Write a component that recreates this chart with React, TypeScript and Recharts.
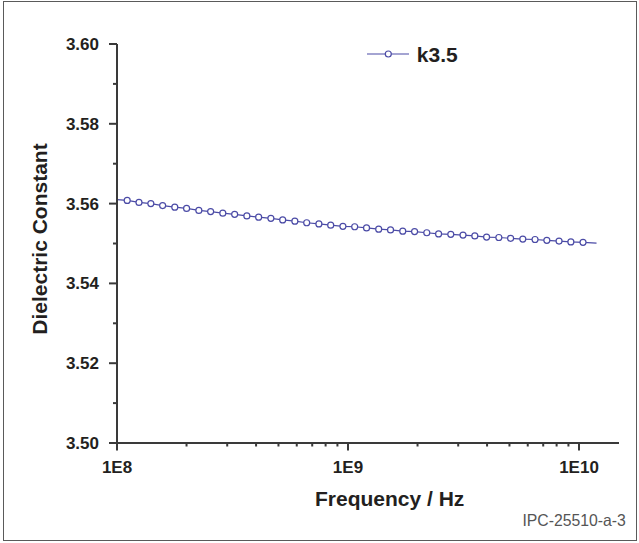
import React from 'react';
import { LineChart, Line, XAxis, YAxis, Legend } from 'recharts';

// Frequency (Hz) of the plotted points
const frequencyHz = [
  1.0e8, 1.107e8, 1.245e8, 1.401e8, 1.576e8, 1.779e8, 2.001e8, 2.261e8, 2.543e8, 2.871e8,
  3.231e8, 3.649e8, 4.104e8, 4.636e8, 5.215e8, 5.888e8, 6.625e8, 7.482e8, 8.416e8, 9.506e8,
  1.069e9, 1.203e9, 1.358e9, 1.528e9, 1.726e9, 1.942e9, 2.193e9, 2.467e9, 2.786e9, 3.147e9,
  3.54e9, 3.981e9, 4.498e9, 5.058e9, 5.712e9, 6.452e9, 7.258e9, 8.197e9, 9.222e9, 1.041e10,
  1.191e10,
];

// Dielectric constant of series k3.5
const dielectricK35 = [
  3.561, 3.5608, 3.5603, 3.56, 3.5595, 3.5591, 3.5588, 3.5583, 3.558, 3.5576,
  3.5573, 3.5569, 3.5566, 3.5563, 3.5559, 3.5556, 3.5552, 3.5549, 3.5546, 3.5543,
  3.5542, 3.5539, 3.5536, 3.5534, 3.5531, 3.553, 3.5527, 3.5524, 3.5523, 3.5521,
  3.5519, 3.5516, 3.5515, 3.5513, 3.5511, 3.551, 3.5508, 3.5506, 3.5504, 3.5503,
  3.5501,
];

const seriesName = 'k3.5';

const xMajorTicks = [1e8, 1e9, 1e10];
const xTickLabels = ['1E8', '1E9', '1E10'];
const xMinorTicks = [2e8, 3e8, 4e8, 5e8, 6e8, 7e8, 8e8, 9e8, 2e9, 3e9, 4e9, 5e9, 6e9, 7e9, 8e9, 9e9];
const xDomain = [1e8, 1.49e10];

const yTicks = [3.5, 3.51, 3.52, 3.53, 3.54, 3.55, 3.56, 3.57, 3.58, 3.59, 3.6];
const yMajorTicks = [3.5, 3.52, 3.54, 3.56, 3.58, 3.6];
const yTickLabels = ['3.50', '3.52', '3.54', '3.56', '3.58', '3.60'];
const yDomain = [3.5, 3.6];

const xTitle = 'Frequency / Hz';
const yTitle = 'Dielectric Constant';
const footnote = 'IPC-25510-a-3';

const data = frequencyHz.map((f, i) => ({ f, k: dielectricK35[i] }));
const xAllTicks = [...xMajorTicks, ...xMinorTicks].sort((a, b) => a - b);

const FONT = '"Liberation Sans", Arial, Helvetica, sans-serif';
const TEXT = '#231f20';
const AXIS = '#3a3a3a';
const BLUE = '#4b4ba6';

const XTick = (props: any) => {
  const { x, y, payload } = props;
  const v = payload.value;
  const idx = xMajorTicks.findIndex((m) => Math.abs(m - v) / m < 1e-6);
  const major = idx >= 0;
  return (
    <g>
      <line x1={x} x2={x} y1={y} y2={y + (major ? 7.5 : 3.5)} stroke={AXIS} strokeWidth={2} />
      {major && (
        <text x={x} y={y + 30} textAnchor="middle" fontFamily={FONT} fontWeight="bold" fontSize={17} fill={TEXT}>
          {xTickLabels[idx]}
        </text>
      )}
    </g>
  );
};

const YTick = (props: any) => {
  const { x, y, payload } = props;
  const v = payload.value;
  const idx = yMajorTicks.findIndex((m) => Math.abs(m - v) < 1e-6);
  const major = idx >= 0;
  return (
    <g>
      <line x1={x - (major ? 8 : 4)} x2={x} y1={y} y2={y} stroke={AXIS} strokeWidth={2} />
      {major && (
        <text x={x - 18} y={y + 6} textAnchor="end" fontFamily={FONT} fontWeight="bold" fontSize={17} fill={TEXT}>
          {yTickLabels[idx]}
        </text>
      )}
    </g>
  );
};

const Dot = (props: any) => {
  const { cx, cy, index } = props;
  if (index === 0 || index === data.length - 1 || cx == null || cy == null) {
    return <g key={`d${index}`} />;
  }
  return <circle key={`d${index}`} cx={cx} cy={cy} r={3} fill="#ffffff" stroke={BLUE} strokeWidth={1.2} />;
};

const XTitle = () => (
  <text x={389.7} y={505.7} textAnchor="middle" fontFamily={FONT} fontWeight="bold" fontSize={21} fill={TEXT}>
    {xTitle}
  </text>
);

const YTitle = () => (
  <text
    x={0}
    y={0}
    transform="translate(46.9,239) rotate(-90)"
    textAnchor="middle"
    fontFamily={FONT}
    fontWeight="bold"
    fontSize={21}
    fill={TEXT}
  >
    {yTitle}
  </text>
);

const LegendContent = () => (
  <svg width={120} height={30} style={{ display: 'block', overflow: 'visible' }}>
    <line x1={0} x2={42} y1={15} y2={15} stroke={BLUE} strokeWidth={1.2} />
    <circle cx={21.3} cy={15} r={3} fill="#ffffff" stroke={BLUE} strokeWidth={1.2} />
    <text x={49.8} y={22.6} fontFamily={FONT} fontWeight="bold" fontSize={21} fill={TEXT}>
      {seriesName}
    </text>
  </svg>
);

export default function App() {
  return (
    <div style={{ position: 'absolute', left: 0, top: 0, width: 639, height: 543, background: '#ffffff' }}>
      <div
        style={{
          position: 'absolute',
          left: 3,
          top: 1,
          width: 634,
          height: 540,
          boxSizing: 'border-box',
          border: '1.5px solid #5a5a5a',
          pointerEvents: 'none',
        }}
      />
      <LineChart width={639} height={543} data={data} margin={{ top: 44, right: 20, bottom: 0, left: 0 }}>
        <XAxis
          dataKey="f"
          type="number"
          scale="log"
          domain={xDomain}
          ticks={xAllTicks}
          interval={0}
          allowDataOverflow
          height={100}
          tickLine={false}
          tickSize={0}
          tickMargin={0}
          tick={<XTick />}
          axisLine={{ stroke: AXIS, strokeWidth: 2 }}
          label={<XTitle />}
        />
        <YAxis
          type="number"
          domain={yDomain}
          ticks={yTicks}
          interval={0}
          allowDataOverflow
          width={117}
          tickLine={false}
          tickSize={0}
          tickMargin={0}
          tick={<YTick />}
          axisLine={{ stroke: AXIS, strokeWidth: 2 }}
          label={<YTitle />}
        />
        <Legend
          layout="horizontal"
          verticalAlign="middle"
          align="center"
          content={<LegendContent />}
          wrapperStyle={{ position: 'absolute', left: 366.7, top: 38.7, width: 120, height: 30 }}
        />
        <Line
          type="linear"
          dataKey="k"
          name={seriesName}
          stroke={BLUE}
          strokeWidth={1.2}
          dot={Dot}
          activeDot={false}
          isAnimationActive={false}
        />
      </LineChart>
      <div
        style={{
          position: 'absolute',
          left: 0,
          top: 0,
          pointerEvents: 'none',
        }}
      >
        <svg width={639} height={543}>
          <text
            x={522.4}
            y={526.3}
            fontFamily={FONT}
            fontSize={16.5}
            fill="#555555"
            textLength={103.5}
            lengthAdjust="spacingAndGlyphs"
          >
            {footnote}
          </text>
        </svg>
      </div>
    </div>
  );
}
